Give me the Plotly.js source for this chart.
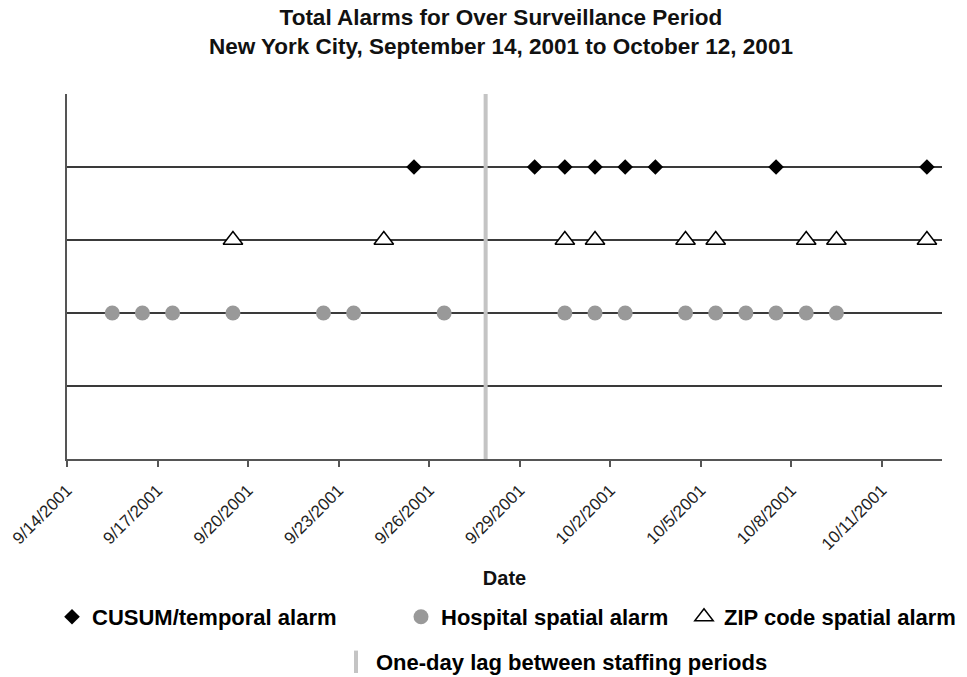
<!DOCTYPE html>
<html>
<head>
<meta charset="utf-8">
<script src="https://cdn.plot.ly/plotly-3.0.1.min.js"></script>
<style>html,body{margin:0;padding:0;background:#fff;}#chart{width:967px;height:677px;}</style>
</head>
<body>
<div id="chart"></div>
<script>
// ---- data ----
const cusumDates = ['2001-09-25','2001-09-29','2001-09-30','2001-10-01','2001-10-02','2001-10-03','2001-10-07','2001-10-12'];
const zipDates = ['2001-09-19','2001-09-24','2001-09-30','2001-10-01','2001-10-04','2001-10-05','2001-10-08','2001-10-09','2001-10-12'];
const hospitalDates = ['2001-09-15','2001-09-16','2001-09-17','2001-09-19','2001-09-22','2001-09-23','2001-09-26','2001-09-30','2001-10-01','2001-10-02','2001-10-04','2001-10-05','2001-10-06','2001-10-07','2001-10-08','2001-10-09'];
const cusumLevel = 4;
const zipLevel = 3;
const hospitalLevel = 2;
const lagDate = ['2001-09-27 21:00'];
const tickDates = ['2001-09-14','2001-09-17','2001-09-20','2001-09-23','2001-09-26','2001-09-29','2001-10-02','2001-10-05','2001-10-08','2001-10-11'];
const tickLabels = ['9/14/2001','9/17/2001','9/20/2001','9/23/2001','9/26/2001','9/29/2001','10/2/2001','10/5/2001','10/8/2001','10/11/2001'];
const seriesNames = ['CUSUM/temporal alarm','Hospital spatial alarm','ZIP code spatial alarm','One-day lag between staffing periods'];

const mid = d => d + ' 12:00';
const F = 'Liberation Sans, Arial, sans-serif';

const traces = [
  {
    type:'scatter', mode:'markers', name: seriesNames[3], legend:'legend4',
    x: lagDate, y: lagDate.map(() => 2.5),
    marker:{symbol:'line-ns-open', size:900, color:'#c4c4c4', line:{color:'#c4c4c4', width:4}},
    hoverinfo:'skip'
  },
  {
    type:'scatter', mode:'markers', name: seriesNames[0], legend:'legend',
    x: cusumDates.map(mid), y: cusumDates.map(() => cusumLevel),
    marker:{symbol:'diamond', size:12, color:'#000', line:{width:0}}
  },
  {
    type:'scatter', mode:'markers', name: seriesNames[1], legend:'legend2',
    x: hospitalDates.map(mid), y: hospitalDates.map(() => hospitalLevel),
    marker:{symbol:'circle', size:15, color:'#999', line:{width:0}}
  },
  {
    type:'scatter', mode:'markers', name: seriesNames[2], legend:'legend3',
    x: zipDates.map(mid), y: zipDates.map(() => zipLevel),
    marker:{symbol:'triangle-up', size:17, color:'#fff', line:{color:'#000', width:1.5}}
  }
];

// plot area: x 67..942 (875px), y 94..459 (365px)
const px = X => (X - 67) / 875;
const py = Y => (459 - Y) / 365;
const legFont = {family:F, size:22, color:'#000', weight:'bold'};
const legBase = {xref:'paper', yref:'paper', orientation:'h', xanchor:'left', yanchor:'middle', bgcolor:'rgba(0,0,0,0)', font:legFont, itemclick:false, itemdoubleclick:false};

const layout = {
  width:967, height:677,
  paper_bgcolor:'#fff', plot_bgcolor:'#fff',
  margin:{l:67, r:25, t:94, b:218, autoexpand:false},
  font:{family:F, color:'#111'},
  title:{
    text:'<b>Total Alarms for Over Surveillance Period<br>New York City, September 14, 2001 to October 12, 2001</b>',
    font:{family:F, size:22.5, color:'#111'},
    xref:'container', x:0.518, xanchor:'center',
    yref:'container', y:1 - 25/677, yanchor:'top'
  },
  xaxis:{
    type:'date', range:['2001-09-14','2001-10-13'],
    tickvals: tickDates, ticktext: tickLabels, tickangle:-45,
    tickfont:{family:F, size:17, color:'#222'},
    ticklabelstandoff:7,
    ticks:'outside', ticklen:6, tickwidth:1.5, tickcolor:'#555',
    showline:true, linecolor:'#555', linewidth:1.5,
    showgrid:false, zeroline:false,
    title:{text:'<b>Date</b>', font:{family:F, size:20, color:'#111'}, standoff:18},
    fixedrange:true
  },
  yaxis:{
    range:[0,5], tickvals:[1,2,3,4], showticklabels:false,
    showgrid:true, gridcolor:'#3a3a3a', gridwidth:1.5,
    showline:true, linecolor:'#555', linewidth:1.5,
    zeroline:false, ticks:'', fixedrange:true
  },
  showlegend:true,
  legend: Object.assign({}, legBase, {x:px(52), y:py(617)}),
  legend2: Object.assign({}, legBase, {x:px(401), y:py(617)}),
  legend3: Object.assign({}, legBase, {x:px(684), y:py(617)}),
  legend4: Object.assign({}, legBase, {x:px(336), y:py(662)})
};

Plotly.newPlot('chart', traces, layout, {displayModeBar:false});
</script>
</body>
</html>
